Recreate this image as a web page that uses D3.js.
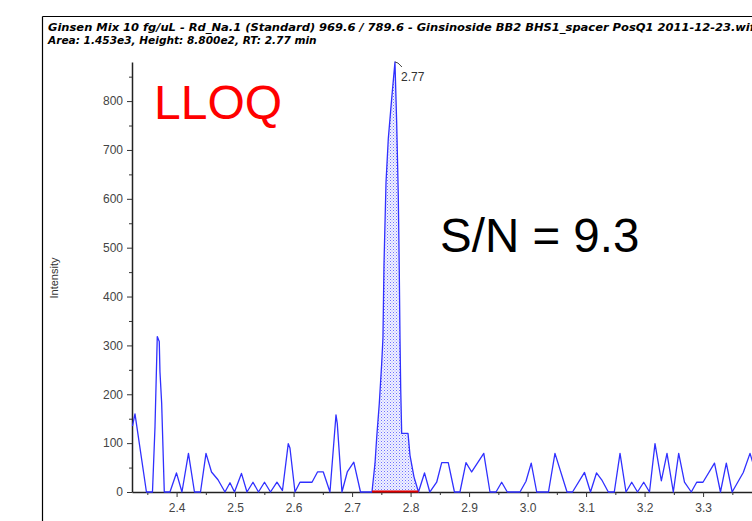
<!DOCTYPE html>
<html>
<head>
<meta charset="utf-8">
<script src="https://cdn.jsdelivr.net/npm/d3@7"></script>
<style>
  body { margin: 0; background: #fff; }
  svg { display: block; }
</style>
</head>
<body>
<div id="chart"></div>
<script>
// vertices of the trace (time in min, intensity in cps)
var times = [2.3246, 2.3289, 2.3485, 2.3588, 2.3631, 2.3670, 2.3704, 2.3716, 2.3745, 2.3790,
  2.3887, 2.3998, 2.4092, 2.4203, 2.4306, 2.4409, 2.4503, 2.4597, 2.4708, 2.4827,
  2.4913, 2.4990, 2.5109, 2.5203, 2.5306, 2.5400, 2.5503, 2.5605, 2.5716, 2.5810,
  2.5909, 2.5938, 2.6024, 2.6109, 2.6315, 2.6409, 2.6508, 2.6622, 2.6725, 2.6747,
  2.6827, 2.6918, 2.7029, 2.7144, 2.7340, 2.7392, 2.7421, 2.7465, 2.7506, 2.7528,
  2.7545, 2.7580, 2.7619, 2.7677, 2.7733, 2.7762, 2.7790, 2.7807, 2.7819, 2.7831,
  2.7848, 2.7956, 2.7990, 2.8058, 2.8135, 2.8238, 2.8328, 2.8446, 2.8532, 2.8644,
  2.8750, 2.8844, 2.8947, 2.9044, 2.9251, 2.9357, 2.9460, 2.9557, 2.9653, 2.9870,
  2.9973, 3.0062, 3.0156, 3.0357, 3.0468, 3.0674, 3.0768, 3.0973, 3.1075, 3.1178,
  3.1267, 3.1380, 3.1482, 3.1580, 3.1682, 3.1780, 3.1879, 3.1985, 3.2084, 3.2178,
  3.2286, 3.2383, 3.2491, 3.2583, 3.2682, 3.2798, 3.2891, 3.2998, 3.3195, 3.3297,
  3.3397, 3.3497, 3.3687, 3.3802, 3.3887];
var intensity = [135, 160, 0, 0, 133, 318, 308, 246, 182, 0,
  0, 39, 0, 79, 0, 0, 79, 41, 25, 0,
  19, 0, 38, 0, 20, 0, 20, 0, 20, 3,
  99, 90, 0, 20, 20, 41, 41, 0, 158, 140,
  0, 41, 61, 0, 0, 59, 112, 181, 263, 316,
  464, 634, 723, 805, 880, 757, 607, 450, 314, 212,
  120, 120, 75, 31, 0, 39, 0, 20, 60, 60,
  0, 0, 60, 41, 79, 0, 0, 20, 0, 0,
  22, 59, 0, 0, 79, 0, 0, 40, 0, 39,
  25, 0, 0, 79, 0, 20, 0, 20, 0, 99,
  23, 79, 0, 79, 20, 0, 20, 20, 59, 0,
  59, 0, 40, 79, 45];

var peakStart = 2.7340, peakEnd = 2.8135, peakRT = 2.77;
var yTickValues = [0, 100, 200, 300, 400, 500, 600, 700, 800];
var yMinorValues = [50, 150, 250, 350, 450, 550, 650, 750, 850];
var xTickValues = [2.4, 2.5, 2.6, 2.7, 2.8, 2.9, 3.0, 3.1, 3.2, 3.3];
var xMinorValues = [2.35, 2.45, 2.55, 2.65, 2.75, 2.85, 2.95, 3.05, 3.15, 3.25, 3.35];
var titleLines = ["Ginsen Mix 10 fg/uL - Rd_Na.1 (Standard) 969.6 / 789.6 - Ginsinoside BB2 BHS1_spacer PosQ1 2011-12-23.wiff",
  "Area: 1.453e3, Height: 8.800e2, RT: 2.77 min"];
var titleWidths = [712, 269];

var W = 752, H = 521;
var font = "'Liberation Sans', Arial, sans-serif";

var data = times.map(function(t, i){ return {t: t, v: intensity[i]}; });

var svg = d3.select("#chart").append("svg")
  .attr("width", W).attr("height", H);

var x = d3.scaleLinear().domain([2.3238, 3.3836]).range([132, 752]);
var y = d3.scaleLinear().domain([0, 880]).range([492, 62]);

// dotted fill for the integrated peak
var pat = svg.append("defs").append("pattern")
  .attr("id", "dots").attr("patternUnits", "userSpaceOnUse")
  .attr("width", 3).attr("height", 3);
pat.append("rect").attr("width", 3).attr("height", 3).attr("fill", "#f0f2ff");
pat.append("rect").attr("x", 0).attr("y", 0).attr("width", 1).attr("height", 1).attr("fill", "#7070ff");
pat.append("rect").attr("x", 1.5).attr("y", 1.5).attr("width", 1).attr("height", 1).attr("fill", "#a0a0ff");

// frame
svg.append("line").attr("x1", 42.5).attr("x2", 42.5).attr("y1", 16.5).attr("y2", H)
  .attr("stroke", "#000").attr("stroke-width", 1.2);
svg.append("line").attr("x1", 42.5).attr("x2", W).attr("y1", 16.5).attr("y2", 16.5)
  .attr("stroke", "#000").attr("stroke-width", 1.2);

// title, condensed bold italic, each line squeezed to the width seen in the picture
titleLines.forEach(function(s, i){
  var g = svg.append("g");
  var t = g.append("text")
    .attr("x", 0).attr("y", 0)
    .attr("font-family", "'Liberation Sans Narrow', 'DejaVu Sans Condensed', sans-serif")
    .attr("font-weight", "bold").attr("font-style", "italic")
    .attr("font-size", "11px")
    .attr("fill", "#000")
    .text(s);
  var w = t.node().getComputedTextLength();
  var k = w > 0 ? titleWidths[i] / w : 1;
  g.attr("transform", "translate(48," + (31 + i * 12.5) + ") scale(" + k + ",1)");
});

// peak area
var peakData = data.filter(function(d){ return d.t >= peakStart - 1e-6 && d.t <= peakEnd + 1e-6; });
svg.append("path").datum(peakData)
  .attr("d", d3.area().x(function(d){ return x(d.t); }).y0(y(0)).y1(function(d){ return y(d.v); }))
  .attr("fill", "url(#dots)");

// axes
svg.append("g").attr("transform", "translate(132,0)")
  .call(d3.axisLeft(y).tickValues(yTickValues).tickSize(5).tickSizeOuter(0).tickPadding(4).tickFormat(d3.format("d")));
svg.append("g").attr("transform", "translate(132,0)")
  .call(d3.axisLeft(y).tickValues(yMinorValues).tickSize(3).tickSizeOuter(0).tickFormat(""))
  .select(".domain").remove();
svg.append("g").attr("transform", "translate(0,492)")
  .call(d3.axisBottom(x).tickValues(xTickValues).tickSize(5).tickSizeOuter(0).tickPadding(6).tickFormat(d3.format(".1f")));
svg.append("g").attr("transform", "translate(0,492)")
  .call(d3.axisBottom(x).tickValues(xMinorValues).tickSize(3).tickSizeOuter(0).tickFormat(""))
  .select(".domain").remove();

svg.selectAll(".tick line").attr("stroke", "#333");
svg.selectAll(".domain").attr("stroke", "#222").attr("stroke-width", 1.5);
svg.selectAll(".tick text").attr("font-family", font).attr("font-size", "12px").attr("fill", "#444");

// trace
svg.append("path").datum(data)
  .attr("d", d3.line().x(function(d){ return x(d.t); }).y(function(d){ return y(d.v); }))
  .attr("fill", "none").attr("stroke", "#3030ff").attr("stroke-width", 1.3)
  .attr("stroke-linejoin", "round");

// integration baseline
svg.append("line")
  .attr("x1", x(peakStart)).attr("x2", x(peakEnd))
  .attr("y1", y(0) - 0.5).attr("y2", y(0) - 0.5)
  .attr("stroke", "#e00000").attr("stroke-width", 2);

// RT label with leader
var apex = data.filter(function(d){ return d.v === d3.max(intensity); })[0];
svg.append("path")
  .attr("d", "M" + x(apex.t) + "," + y(apex.v) + " l3,1 l4,4")
  .attr("fill", "none").attr("stroke", "#444").attr("stroke-width", 1);
svg.append("text").attr("x", x(apex.t) + 6).attr("y", y(apex.v) + 19)
  .attr("font-family", font).attr("font-size", "12px").attr("fill", "#333")
  .text(peakRT.toFixed(2));

// axis titles
svg.append("text").attr("transform", "translate(57.5,278) rotate(-90)")
  .attr("text-anchor", "middle")
  .attr("font-family", font).attr("font-size", "11px").attr("fill", "#333")
  .text("Intensity");
svg.append("text").attr("x", 432).attr("y", 529)
  .attr("font-family", font).attr("font-size", "11px").attr("fill", "#333")
  .text("Time, min");

// annotations
svg.append("text").attr("x", 154).attr("y", 119)
  .attr("font-family", font).attr("font-size", "48px").attr("fill", "#ff0000")
  .text("LLOQ");
svg.append("text").attr("x", 440).attr("y", 252)
  .attr("font-family", font).attr("font-size", "47.5px").attr("fill", "#000")
  .text("S/N = 9.3");
</script>
</body>
</html>
